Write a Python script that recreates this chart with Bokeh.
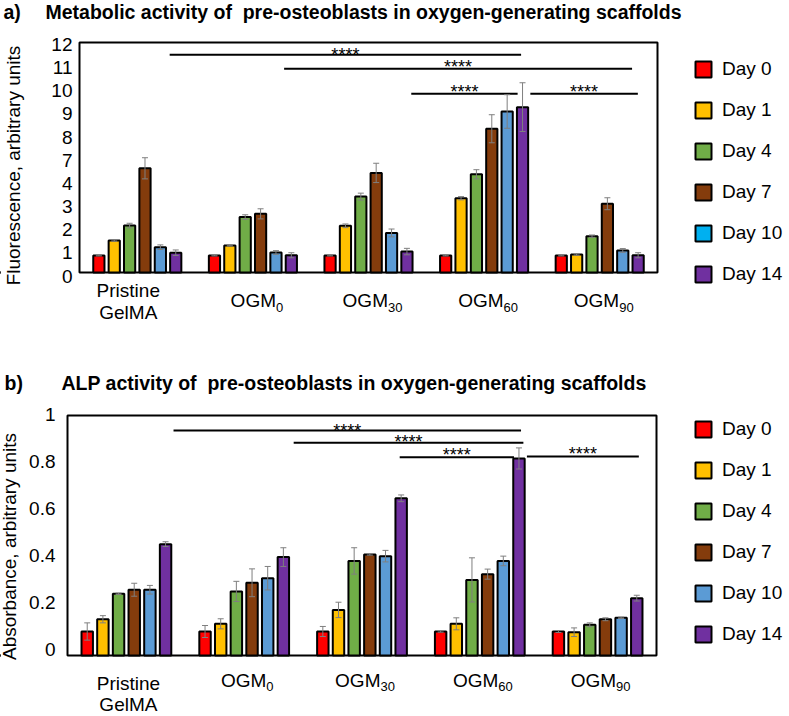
import numpy as np
from bokeh.plotting import figure
from bokeh.models import (ColumnDataSource, Whisker, TeeHead, Legend,
                          LegendItem, Range1d)
from bokeh.layouts import column
from bokeh.embed import file_html
from bokeh.resources import INLINE
from bokeh.core.properties import value

FONT = "Liberation Sans"

# ---------------- shared data ----------------
days = ["Day 0", "Day 1", "Day 4", "Day 7", "Day 10", "Day 14"]
bar_colors = ["#FF0000", "#FFC000", "#70AD47", "#843C0C", "#5B9BD5", "#7030A0"]
legend_colors_a = ["#FF0000", "#FFC000", "#70AD47", "#843C0C", "#00B0F0", "#7030A0"]
legend_colors_b = ["#FF0000", "#FFC000", "#70AD47", "#843C0C", "#5B9BD5", "#7030A0"]
group_main = ["Pristine", "OGM", "OGM", "OGM", "OGM"]
group_sub = ["", "0", "30", "60", "90"]
group_second_line = "GelMA"

# ---------------- a) metabolic activity ----------------
a_tag = "a)"
a_title = "Metabolic activity of\u00a0 pre-osteoblasts in oxygen-generating scaffolds"
a_ylabel = "Fluorescence, arbitrary units"
a_ticks = [0, 1, 2, 3, 4, 5, 6, 7, 8, 9, 10]
a_tick_labels = ["0", "1", "2", "3", "4", "7", "8", "9", "10", "11", "12"]
# groups: Pristine GelMA, OGM0, OGM30, OGM60, OGM90 (values in axis units)
a_day0 = [0.74, 0.74, 0.74, 0.74, 0.74]
a_day1 = [1.39, 1.17, 2.03, 3.23, 0.78]
a_day4 = [2.04, 2.41, 3.30, 4.27, 1.58]
a_day7 = [4.53, 2.55, 4.33, 6.25, 2.99]
a_day10 = [1.10, 0.87, 1.72, 7.00, 0.96]
a_day14 = [0.86, 0.75, 0.91, 7.19, 0.75]
a_err0 = [0.02, 0.02, 0.02, 0.02, 0.02]
a_err1 = [0.03, 0.02, 0.08, 0.07, 0.03]
a_err4 = [0.10, 0.10, 0.15, 0.20, 0.05]
a_err7 = [0.46, 0.22, 0.42, 0.61, 0.26]
a_err10 = [0.10, 0.08, 0.17, 0.73, 0.08]
a_err14 = [0.12, 0.11, 0.14, 1.06, 0.11]
a_sig_x0 = [0.78, 1.77, 2.87, 3.90]
a_sig_x1 = [3.82, 4.78, 3.79, 4.83]
a_sig_y = [9.47, 8.86, 7.77, 7.77]

# ---------------- b) ALP activity ----------------
b_tag = "b)"
b_title = "ALP activity of\u00a0 pre-osteoblasts in oxygen-generating scaffolds"
b_ylabel = "Absorbance, arbitrary units"
b_ticks = [0, 0.2, 0.4, 0.6, 0.8, 1.0]
b_tick_labels = ["0", "0.2", "0.4", "0.6", "0.8", "1"]
b_day0 = [0.100, 0.100, 0.100, 0.100, 0.100]
b_day1 = [0.151, 0.132, 0.190, 0.132, 0.097]
b_day4 = [0.257, 0.267, 0.394, 0.315, 0.128]
b_day7 = [0.274, 0.303, 0.421, 0.339, 0.151]
b_day10 = [0.274, 0.322, 0.414, 0.394, 0.157]
b_day14 = [0.464, 0.410, 0.655, 0.821, 0.239]
b_err0 = [0.036, 0.025, 0.021, 0.003, 0.004]
b_err1 = [0.015, 0.021, 0.032, 0.025, 0.018]
b_err4 = [0.003, 0.042, 0.055, 0.092, 0.008]
b_err7 = [0.027, 0.058, 0.003, 0.021, 0.006]
b_err10 = [0.018, 0.049, 0.024, 0.020, 0.003]
b_err14 = [0.010, 0.039, 0.014, 0.044, 0.012]
b_sig_x0 = [0.90, 1.92, 2.82, 3.90]
b_sig_x1 = [3.85, 3.87, 3.79, 4.85]
b_sig_y = [0.9375, 0.886, 0.826, 0.829]

PITCH = 0.133
BAR_W = 0.097
W = 787
BASE_FIX = 0.33      # text baseline correction (fraction of font size)


def build(H, box, y_end, ticks, tick_labels, tick_right, tick_dy0, tick_dy1,
          series, errors, leg_colors, sig_x0, sig_x1, sig_y, sig_base,
          tag, tag_x, title, title_x, title_base, ylabel, ylabel_cy,
          ylabel_base, leg_loc, pr_dx, pr_base, ge_base, ogm_dx, ogm_base,
          sub_base):
    FL, FR, FT, FB = box                     # plotting box in canvas pixels
    ux = (FR - FL) / 5.0
    uy = (FB - FT) / float(y_end)
    X = lambda cx: (cx - FL) / ux            # canvas px -> data
    Y = lambda cy: (FB - cy) / uy
    fix = lambda fs: BASE_FIX * fs
    p = figure(width=W, height=H, output_backend="svg",
               toolbar_location=None,
               x_range=Range1d(X(0), X(W)), y_range=Range1d(Y(H), Y(0)),
               min_border=0, min_border_left=0, min_border_right=0,
               min_border_top=0, min_border_bottom=0)
    p.xaxis.visible = False
    p.yaxis.visible = False
    p.xgrid.visible = False
    p.ygrid.visible = False
    p.outline_line_color = None
    p.background_fill_color = "white"
    p.border_fill_color = "white"

    txt = dict(text_font=value(FONT), text_color="black",
               text_baseline="alphabetic")

    # frame box
    p.quad(left=[0], right=[5], bottom=[0], top=[y_end], fill_color=None,
           line_color="black", line_width=2)

    centers = np.arange(5) + 0.5
    for j, (vals, errs, col) in enumerate(zip(series, errors, bar_colors)):
        xs = centers + (j - 2.5) * PITCH
        v = np.array(vals)
        e = np.array(errs)
        p.vbar(x=xs, top=v, width=BAR_W, bottom=0, fill_color=col,
               line_color="black", line_width=2)
        src = ColumnDataSource(dict(x=xs, lower=v - e, upper=v + e))
        w = Whisker(source=src, base="x", upper="upper", lower="lower",
                    line_color="#7f7f7f", line_width=1, level="overlay",
                    upper_head=TeeHead(size=6, line_color="#7f7f7f", line_width=1),
                    lower_head=TeeHead(size=6, line_color="#7f7f7f", line_width=1))
        p.add_layout(w)

    # y tick labels (label centre moved down by dy px, varying along axis)
    ty = []
    for t in ticks:
        f = t / y_end
        dy = tick_dy0 * (1 - f) + tick_dy1 * f
        ty.append(t - (dy + 6.8 - fix(19)) / uy)
    p.text(x=[X(tick_right)] * len(ticks), y=ty, text=tick_labels,
           text_font_size="19px", text_align="right", **txt)

    # significance bars
    p.segment(x0=sig_x0, y0=sig_y, x1=sig_x1, y1=sig_y, line_color="black",
              line_width=2)
    tx = [(a + b) / 2 for a, b in zip(sig_x0, sig_x1)]
    sy = [y - (o - fix(18)) / uy for y, o in zip(sig_y, sig_base)]
    p.text(x=tx, y=sy, text=["****"] * len(tx), text_font_size="18px",
           text_align="center", **txt)

    # legend (proxy renderers, placed outside the visible range)
    items = []
    for d, c in zip(days, leg_colors):
        r = p.vbar(x=[X(-500)], top=[0.0], bottom=[0.0], width=0.1,
                   fill_color=c, line_color="black", line_width=2)
        items.append(LegendItem(label=d, renderers=[r]))
    leg = Legend(items=items, location=leg_loc, glyph_width=20,
                 glyph_height=20, label_height=22, spacing=19, padding=0,
                 margin=0, label_standoff=9, border_line_color=None,
                 background_fill_alpha=0, label_text_font=FONT,
                 label_text_font_size="19px", label_text_color="black")
    p.add_layout(leg)

    # tag and title
    p.text(x=[X(tag_x), X(title_x)], y=[Y(title_base - fix(19.5))] * 2,
           text=[tag, title], text_font_size="19.5px", text_font_style="bold",
           text_align="left", **txt)
    # y axis title (rotated, baseline on the right-hand side)
    p.text(x=[X(ylabel_base - fix(19))], y=[Y(ylabel_cy)], text=[ylabel],
           angle=np.pi / 2, text_font_size="19px", text_align="center", **txt)

    # category labels
    main_w = 2.389 * 19
    for i, (m, s) in enumerate(zip(group_main, group_sub)):
        c = centers[i]
        if s == "":
            p.text(x=[c + pr_dx / ux] * 2,
                   y=[Y(pr_base - fix(19)), Y(ge_base - fix(19))],
                   text=[m, group_second_line], text_font_size="19px",
                   text_align="center", **txt)
        else:
            sub_w = 0.556 * 13 * len(s)
            xj = c + (ogm_dx + (main_w - sub_w) / 2) / ux
            p.text(x=[xj], y=[Y(ogm_base - fix(19))], text=[m],
                   text_font_size="19px", text_align="right", **txt)
            p.text(x=[xj], y=[Y(sub_base - fix(13))], text=[s],
                   text_font_size="13px", text_align="left", **txt)
    return p


# top chart: canvas = reference
pa = build(H=345, box=(79, 657, 42, 272), y_end=10,
           ticks=a_ticks, tick_labels=a_tick_labels, tick_right=72,
           tick_dy0=3.0, tick_dy1=1.3,
           series=[a_day0, a_day1, a_day4, a_day7, a_day10, a_day14],
           errors=[a_err0, a_err1, a_err4, a_err7, a_err10, a_err14],
           leg_colors=legend_colors_a, sig_x0=a_sig_x0, sig_x1=a_sig_x1,
           sig_y=a_sig_y, sig_base=[6.3, 4.6, 4.6, 4.6],
           tag=a_tag, tag_x=3, title=a_title, title_x=45, title_base=18.3,
           ylabel=a_ylabel, ylabel_cy=165, ylabel_base=19.5,
           leg_loc=(693, 60), pr_dx=-9, pr_base=296.7, ge_base=318.7,
           ogm_dx=4, ogm_base=306.7, sub_base=310.8)

# bottom chart: canvas = reference - (0, 345)
pb = build(H=370, box=(67, 656, 70, 310), y_end=1.0,
           ticks=b_ticks, tick_labels=b_tick_labels, tick_right=55,
           tick_dy0=-7.0, tick_dy1=-1.7,
           series=[b_day0, b_day1, b_day4, b_day7, b_day10, b_day14],
           errors=[b_err0, b_err1, b_err4, b_err7, b_err10, b_err14],
           leg_colors=legend_colors_b, sig_x0=b_sig_x0, sig_x1=b_sig_x1,
           sig_y=b_sig_y, sig_base=[6.3, 5.0, 4.0, 3.6],
           tag=b_tag, tag_x=4, title=b_title, title_x=61, title_base=44.3,
           ylabel=b_ylabel, ylabel_cy=201, ylabel_base=14.8,
           leg_loc=(693, 70), pr_dx=2, pr_base=344, ge_base=365,
           ogm_dx=3, ogm_base=341, sub_base=345.7)

layout = column(pa, pb, spacing=0)
open("out.html", "w").write(file_html(layout, INLINE))
